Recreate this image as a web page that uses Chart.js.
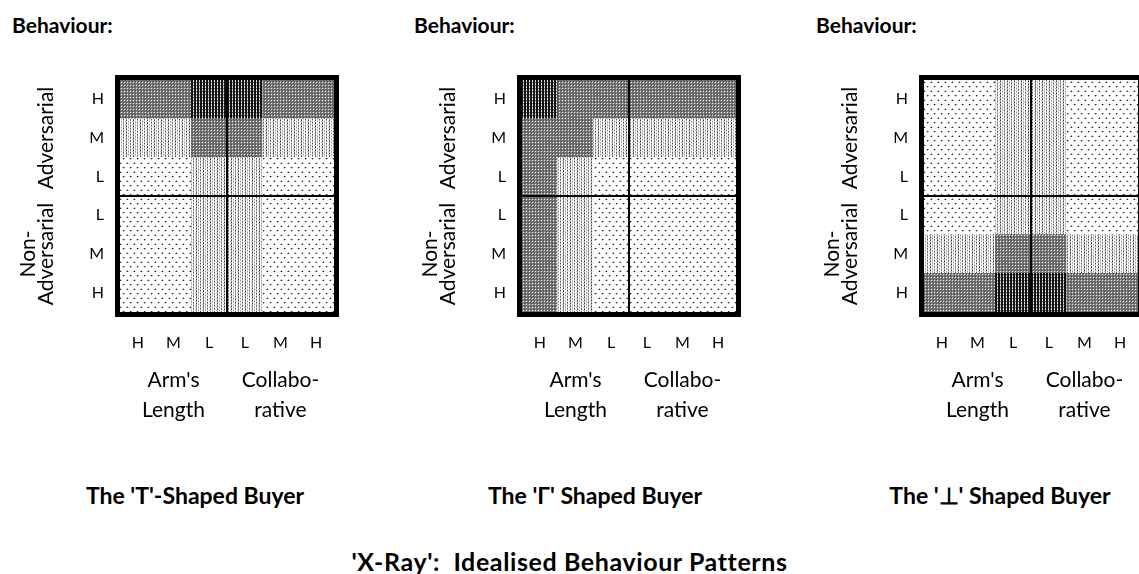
<!DOCTYPE html>
<html>
<head>
<meta charset="utf-8">
<title>'X-Ray': Idealised Behaviour Patterns</title>
<script src="https://cdn.jsdelivr.net/npm/chart.js@4.4.1/dist/chart.umd.min.js"></script>
<style>
  html, body { margin: 0; padding: 0; background: #fff; overflow: hidden; }
  body { width: 1139px; height: 574px; position: relative; font-family: Lato, 'Open Sans', sans-serif; color: #000; }
  canvas.panel { position: absolute; top: 0; }
  .behaviour { position: absolute; top: 14px; font-weight: bold; font-size: 21px; line-height: 1; }
  .caption { position: absolute; top: 484px; width: 402px; text-align: center; font-weight: bold; font-size: 23px; line-height: 1; white-space: pre; }
  #title { position: absolute; top: 549px; left: 0; width: 1139px; text-align: center; font-weight: bold; font-size: 25px; line-height: 1; white-space: pre; letter-spacing: 0.6px; }
</style>
</head>
<body>
<div class="behaviour" style="left:12px">Behaviour:</div>
<div class="behaviour" style="left:414px">Behaviour:</div>
<div class="behaviour" style="left:816px">Behaviour:</div>
<canvas class="panel" id="panel0" width="402" height="440" style="left:0px"></canvas>
<canvas class="panel" id="panel1" width="402" height="440" style="left:402px"></canvas>
<canvas class="panel" id="panel2" width="402" height="440" style="left:804px"></canvas>
<div class="caption" id="cap0" style="left:-6px"></div>
<div class="caption" id="cap1" style="left:394px"></div>
<div class="caption" id="cap2" style="left:799px"></div>
<div id="title"></div>
<script>
// axis categories
const colLabels = ['H', 'M', 'L', 'L', 'M', 'H'];
const rowLabels = ['H', 'M', 'L', 'L', 'M', 'H'];

// shading level per cell, rows listed top to bottom
// 1 = sparse dots, 2 = dotted, 3 = grey, 4 = near black
const tShaped = [
  [3, 3, 4, 4, 3, 3],
  [2, 2, 3, 3, 2, 2],
  [1, 1, 2, 2, 1, 1],
  [1, 1, 2, 2, 1, 1],
  [1, 1, 2, 2, 1, 1],
  [1, 1, 2, 2, 1, 1]
];
const gammaShaped = [
  [4, 3, 3, 3, 3, 3],
  [3, 3, 2, 2, 2, 2],
  [3, 2, 1, 1, 1, 1],
  [3, 2, 1, 1, 1, 1],
  [3, 2, 1, 1, 1, 1],
  [3, 2, 1, 1, 1, 1]
];
const invertedTShaped = [
  [1, 1, 2, 2, 1, 1],
  [1, 1, 2, 2, 1, 1],
  [1, 1, 2, 2, 1, 1],
  [1, 1, 2, 2, 1, 1],
  [2, 2, 3, 3, 2, 2],
  [3, 3, 4, 4, 3, 3]
];

const captions = ["The 'T'-Shaped Buyer", "The '\u0393' Shaped Buyer", "The '\u22A5' Shaped Buyer"];
const mainTitle = "'X-Ray':  Idealised Behaviour Patterns";

const xGroups = [
  { at: 1, lines: ["Arm's", 'Length'] },
  { at: 4, lines: ['Collabo-', 'rative'] }
];
const yGroups = [
  { at: 1, lines: ['Adversarial'] },
  { at: 4, lines: ['Non-', 'Adversarial'] }
];

const FONT = "Lato, 'Open Sans', sans-serif";

// small tiles repeated as fills
function tile(w, h, paint) {
  const c = document.createElement('canvas');
  c.width = w;
  c.height = h;
  const g = c.getContext('2d');
  g.fillStyle = '#fff';
  g.fillRect(0, 0, w, h);
  paint(g);
  return g.createPattern(c, 'repeat');
}

function px(g, x, y, col) {
  g.fillStyle = col;
  g.fillRect(x, y, 1, 1);
}

const fills = {
  1: tile(7, 9, g => {
    px(g, 1, 1, '#333'); px(g, 0, 1, '#999'); px(g, 1, 0, '#aaa'); px(g, 2, 1, '#ccc');
    px(g, 4, 5, '#333'); px(g, 5, 5, '#999'); px(g, 4, 6, '#aaa'); px(g, 3, 5, '#ccc');
  }),
  2: tile(7, 3, g => {
    px(g, 0, 0, '#3a3a3a'); px(g, 0, 1, '#bbb'); px(g, 0, 2, '#888');
    px(g, 2, 0, '#ddd'); px(g, 2, 1, '#999'); px(g, 2, 2, '#ccc');
    px(g, 4, 0, '#999'); px(g, 4, 1, '#ccc'); px(g, 4, 2, '#555');
    px(g, 6, 1, '#bbb');
  }),
  3: tile(3, 3, g => {
    g.fillStyle = '#7d7d7d';
    g.fillRect(0, 0, 3, 3);
    px(g, 0, 0, '#444'); px(g, 1, 1, '#eee'); px(g, 2, 2, '#555');
  }),
  4: tile(3, 3, g => {
    g.fillStyle = '#111';
    g.fillRect(0, 0, 3, 3);
    px(g, 1, 0, '#eee'); px(g, 1, 1, '#666'); px(g, 1, 2, '#ccc');
  })
};

// thick outer frame plus the group titles beside the axes
const framePlugin = {
  id: 'frame',
  afterDraw(chart) {
    const { ctx, chartArea: a, scales } = chart;
    ctx.save();
    ctx.strokeStyle = '#000';
    ctx.lineWidth = 5;
    ctx.strokeRect(a.left - 2.5, a.top - 2.5, a.width + 5, a.height + 5);

    ctx.fillStyle = '#000';
    ctx.font = '21px ' + FONT;
    ctx.textAlign = 'center';
    ctx.textBaseline = 'alphabetic';
    xGroups.forEach(grp => {
      const x = scales.x.getPixelForValue(grp.at);
      grp.lines.forEach((t, i) => ctx.fillText(t, x, a.bottom + 75 + i * 30));
    });
    yGroups.forEach(grp => {
      const y = scales.rows.getPixelForValue(grp.at);
      const n = grp.lines.length;
      grp.lines.forEach((t, i) => {
        ctx.save();
        ctx.translate(a.left - 67 - (n - 1 - i) * 18, y);
        ctx.rotate(-Math.PI / 2);
        ctx.fillText(t, 0, 0);
        ctx.restore();
      });
    });
    ctx.restore();
  }
};

function buildPanel(id, grid) {
  // stack the rows bottom-up, one dataset per row
  const datasets = grid.slice().reverse().map(row => ({
    data: row.map(() => 1),
    backgroundColor: row.map(level => fills[level]),
    borderWidth: 0,
    barPercentage: 1,
    categoryPercentage: 1
  }));

  const midLine = c => (c.index === 3 ? 2 : 0);

  new Chart(document.getElementById(id), {
    type: 'bar',
    data: { labels: colLabels, datasets },
    options: {
      responsive: false,
      animation: false,
      layout: { padding: { left: 0, top: 80, right: 68, bottom: 0 } },
      plugins: { legend: { display: false }, tooltip: { enabled: false } },
      scales: {
        x: {
          stacked: true,
          grid: { offset: true, drawTicks: false, color: '#000', lineWidth: midLine, z: 1 },
          border: { display: false },
          ticks: { padding: 21, color: '#000', font: { family: FONT, size: 16 } },
          afterFit: s => { s.height = 440 - 312; }
        },
        y: { stacked: true, min: 0, max: 6, display: false },
        rows: {
          type: 'category',
          position: 'left',
          labels: rowLabels,
          offset: true,
          grid: { offset: true, drawTicks: false, color: '#000', lineWidth: midLine, z: 1 },
          border: { display: false },
          ticks: { padding: 16, color: '#000', font: { family: FONT, size: 16 } },
          afterFit: s => { s.width = 120; }
        }
      }
    },
    plugins: [framePlugin]
  });
}

buildPanel('panel0', tShaped);
buildPanel('panel1', gammaShaped);
buildPanel('panel2', invertedTShaped);

captions.forEach((t, i) => { document.getElementById('cap' + i).textContent = t; });
document.getElementById('title').textContent = mainTitle;
</script>
</body>
</html>
